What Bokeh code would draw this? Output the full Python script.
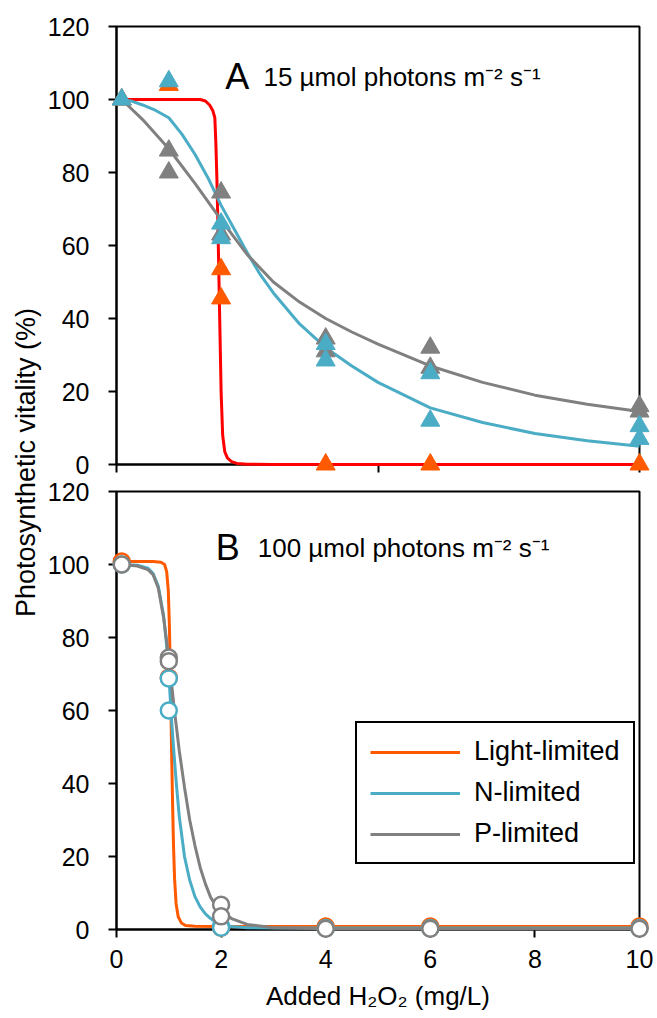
from bokeh.plotting import figure
from bokeh.layouts import row, column
from bokeh.models import Label, Legend, LegendItem, FixedTicker, Range1d
from bokeh.embed import file_html
from bokeh.resources import INLINE

FONT = "Liberation Sans"
ORANGE = "#FF5A00"
RED = "#FF0000"
BLUE = "#4BACC6"
GRAY = "#808080"

series_names = ["Light-limited", "N-limited", "P-limited"]
y_ticks = [0, 20, 40, 60, 80, 100, 120]
x_ticks_a = [0, 5, 10]
x_ticks_b = [0, 2, 4, 6, 8, 10]
title_a = ["A", "15 µmol photons m⁻² s⁻¹"]
title_b = ["B", "100 µmol photons m⁻² s⁻¹"]
x_title = "Added H₂O₂ (mg/L)"
y_title = "Photosynthetic vitality (%)"

# ---------- Panel A (15 µmol photons) : measured points ----------
a_light_x = [0.1, 1, 2, 2, 4, 6, 10]
a_light_y = [100, 104, 53.5, 45.5, 0, 0, 0]
a_n_x = [0.1, 1, 2, 2, 4, 4, 6, 6, 10, 10]
a_n_y = [100, 105, 66, 62, 33, 28.5, 25, 12, 10.5, 7]
a_p_x = [0.1, 1, 1, 2, 2, 4, 4, 6, 6, 10, 10]
a_p_y = [100, 86, 80, 74.5, 63, 34.5, 31, 32, 26.5, 16, 14.5]

# Panel A fitted curves
a_light_fit_x = [0.1, 1.0, 1.6, 1.7, 1.78, 1.84, 1.88, 1.9, 1.92, 1.94, 1.96, 1.98, 2.0, 2.03,
                 2.07, 2.12, 2.2, 2.3, 2.5, 3.0, 10]
a_light_fit_y = [100, 100, 100, 99.6, 98.5, 97, 95, 88, 78, 65, 50, 35, 20, 8,
                 3.5, 1.8, 0.8, 0.3, 0.1, 0, 0]
a_n_fit_x = [0.1, 0.3, 0.5, 0.75, 1, 1.25, 1.5, 1.75, 2, 2.25, 2.5, 2.75, 3, 3.5, 4, 4.5, 5,
             6, 7, 8, 9, 10]
a_n_fit_y = [100, 99.5, 98.5, 97, 95, 90.5, 85, 78.5, 71, 64.5, 58, 52, 47, 38.5, 32, 27, 22.5,
             15.5, 11.5, 8.5, 6.5, 5]
a_p_fit_x = [0.1, 0.5, 1, 1.5, 2, 2.5, 3, 3.5, 4, 4.5, 5, 6, 7, 8, 9, 10]
a_p_fit_y = [100, 94.5, 86.5, 77, 67, 57.5, 50, 44.5, 40, 36.3, 33, 27, 22.5, 19, 16.5, 14.5]

# ---------- Panel B (100 µmol photons) : measured points ----------
b_light_x = [0.1, 1, 2, 4, 6, 10]
b_light_y = [100.8, 69, 0.5, 0.8, 0.8, 0.8]
b_n_x = [0.1, 1, 1, 2, 2, 4, 6, 10]
b_n_y = [100, 68.8, 60, 0.9, 0.5, 0.4, 0.4, 0.4]
b_p_x = [0.1, 1, 1, 2, 2, 4, 6, 10]
b_p_y = [100, 74.5, 73.5, 6.8, 3.6, 0.2, 0.2, 0.2]

# Panel B fitted curves
b_light_fit_x = [0.1, 0.7, 0.85, 0.92, 0.96, 0.99, 1.01, 1.03, 1.05, 1.07, 1.09, 1.11, 1.14,
                 1.18, 1.24, 1.32, 1.5, 2, 4, 10]
b_light_fit_y = [100.8, 100.8, 100.6, 100, 98, 93, 84, 70, 52, 36, 23, 14, 7,
                 3.5, 1.8, 1.1, 0.9, 0.8, 0.8, 0.8]
b_n_fit_x = [0.1, 0.4, 0.6, 0.7, 0.8, 0.9, 0.95, 1.0, 1.05, 1.1, 1.15, 1.2, 1.3, 1.4, 1.5,
             1.6, 1.7, 1.8, 1.9, 2.0, 2.2, 2.5, 3, 4, 10]
b_n_fit_y = [100, 99.8, 99, 97.5, 94, 86, 79, 70, 58, 48, 39, 31, 20, 13.5, 9,
             6.2, 4.3, 3, 2, 1.4, 0.8, 0.5, 0.4, 0.4, 0.4]
b_p_fit_x = [0.1, 0.4, 0.6, 0.7, 0.8, 0.9, 1.0, 1.1, 1.2, 1.3, 1.4, 1.5, 1.6, 1.7, 1.8, 1.9,
             2.0, 2.2, 2.5, 3, 4, 10]
b_p_fit_y = [100, 99.6, 98.6, 97.2, 93.5, 85.5, 74.5, 61, 49, 39, 30, 23, 17, 12.5, 8.8, 6.5,
             5, 3, 1.4, 0.5, 0.2, 0.2]


def make_fig(top, bottom, xticks):
    p = figure(frame_width=523, frame_height=438, x_range=Range1d(0, 10), y_range=Range1d(0, 120),
               toolbar_location=None, output_backend="svg",
               min_border_left=72, min_border_right=15, min_border_top=top, min_border_bottom=bottom,
               background_fill_color="white", border_fill_color="white")
    p.grid.visible = False
    p.outline_line_color = "black"
    p.outline_line_width = 2
    p.outline_line_alpha = 1
    for ax in p.axis:
        ax.axis_line_width = 2
        ax.axis_line_color = "black"
        ax.major_tick_line_width = 2
        ax.major_tick_line_color = "black"
        ax.major_tick_out = 8
        ax.major_tick_in = 0
        ax.minor_tick_line_color = None
        ax.major_label_text_font = FONT
        ax.major_label_text_font_size = "25px"
        ax.major_label_text_color = "black"
    p.yaxis.ticker = FixedTicker(ticks=y_ticks)
    p.yaxis.major_label_standoff = 19
    p.xaxis.ticker = FixedTicker(ticks=xticks)
    return p


def top_level(*renderers):
    for r in renderers:
        r.level = "overlay"


# ---------- Panel A ----------
pa = make_fig(26, 14, x_ticks_a)
pa.xaxis.major_label_overrides = {0: "", 5: "", 10: ""}
pa.xaxis.major_label_text_font_size = "1px"
pa.xaxis.major_label_text_color = None
pa.xaxis.major_label_standoff = 0
top_level(
    pa.line(a_light_fit_x, a_light_fit_y, line_color=RED, line_width=3),
    pa.line(a_n_fit_x, a_n_fit_y, line_color=BLUE, line_width=3),
    pa.line(a_p_fit_x, a_p_fit_y, line_color=GRAY, line_width=3),
    pa.scatter(a_light_x, a_light_y, marker="triangle", size=19, fill_color=ORANGE, line_color=ORANGE),
    pa.scatter(a_p_x, a_p_y, marker="triangle", size=19, fill_color=GRAY, line_color=GRAY),
    pa.scatter(a_n_x, a_n_y, marker="triangle", size=19, fill_color=BLUE, line_color=BLUE),
)
pa.add_layout(Label(x=2.08, y=106.3, text=title_a[0], text_font=FONT, text_font_size="36px",
                    text_baseline="alphabetic", text_color="black"))
pa.add_layout(Label(x=2.81, y=106.3, text=title_a[1], text_font=FONT, text_font_size="26px",
                    text_baseline="alphabetic", text_color="black"))

# ---------- Panel B ----------
pb = make_fig(13, 88, x_ticks_b)
pb.xaxis.major_label_standoff = 12
pb.xaxis.axis_label = x_title
pb.xaxis.axis_label_text_font = FONT
pb.xaxis.axis_label_text_font_size = "26px"
pb.xaxis.axis_label_text_font_style = "normal"
pb.xaxis.axis_label_text_color = "black"
pb.xaxis.axis_label_standoff = 10
rl = pb.line(b_light_fit_x, b_light_fit_y, line_color=ORANGE, line_width=3)
rn = pb.line(b_n_fit_x, b_n_fit_y, line_color=BLUE, line_width=3)
rp = pb.line(b_p_fit_x, b_p_fit_y, line_color=GRAY, line_width=3)
top_level(
    rl, rn, rp,
    pb.scatter(b_light_x, b_light_y, marker="circle", size=16, fill_color="white", line_color=ORANGE, line_width=2.5),
    pb.scatter(b_n_x, b_n_y, marker="circle", size=16, fill_color="white", line_color=BLUE, line_width=2.5),
    pb.scatter(b_p_x, b_p_y, marker="circle", size=16, fill_color="white", line_color=GRAY, line_width=2.5),
)
pb.add_layout(Label(x=1.9, y=104.6, text=title_b[0], text_font=FONT, text_font_size="36px",
                    text_baseline="alphabetic", text_color="black"))
pb.add_layout(Label(x=2.7, y=104.6, text=title_b[1], text_font=FONT, text_font_size="26px",
                    text_baseline="alphabetic", text_color="black"))

legend = Legend(items=[LegendItem(label=series_names[0], renderers=[rl]),
                       LegendItem(label=series_names[1], renderers=[rn]),
                       LegendItem(label=series_names[2], renderers=[rp])],
                location=(239, 65))
legend.border_line_color = "black"
legend.border_line_width = 2
legend.border_line_alpha = 1
legend.background_fill_color = "white"
legend.background_fill_alpha = 1
legend.label_text_font = FONT
legend.label_text_font_size = "27px"
legend.label_text_color = "black"
legend.glyph_width = 90
legend.glyph_height = 30
legend.label_height = 30
legend.label_standoff = 14
legend.spacing = 10
legend.padding = 13
legend.margin = 0
pb.add_layout(legend)

# ---------- shared y-axis title ----------
total_h = (26 + 438 + 14) + (13 + 438 + 88)
ylab = figure(width=44, height=total_h, x_range=Range1d(0, 44), y_range=Range1d(0, total_h),
              toolbar_location=None, output_backend="svg", x_axis_type=None, y_axis_type=None,
              min_border=0, outline_line_color=None,
              background_fill_color="white", border_fill_color="white")
ylab.add_layout(Label(x=25, y=total_h - 462, text=y_title, angle=90, angle_units="deg",
                      text_align="center", text_baseline="middle", text_font=FONT,
                      text_font_size="27px", text_color="black"))

layout = row(ylab, column(pa, pb))
open("out.html", "w").write(file_html(layout, INLINE))
